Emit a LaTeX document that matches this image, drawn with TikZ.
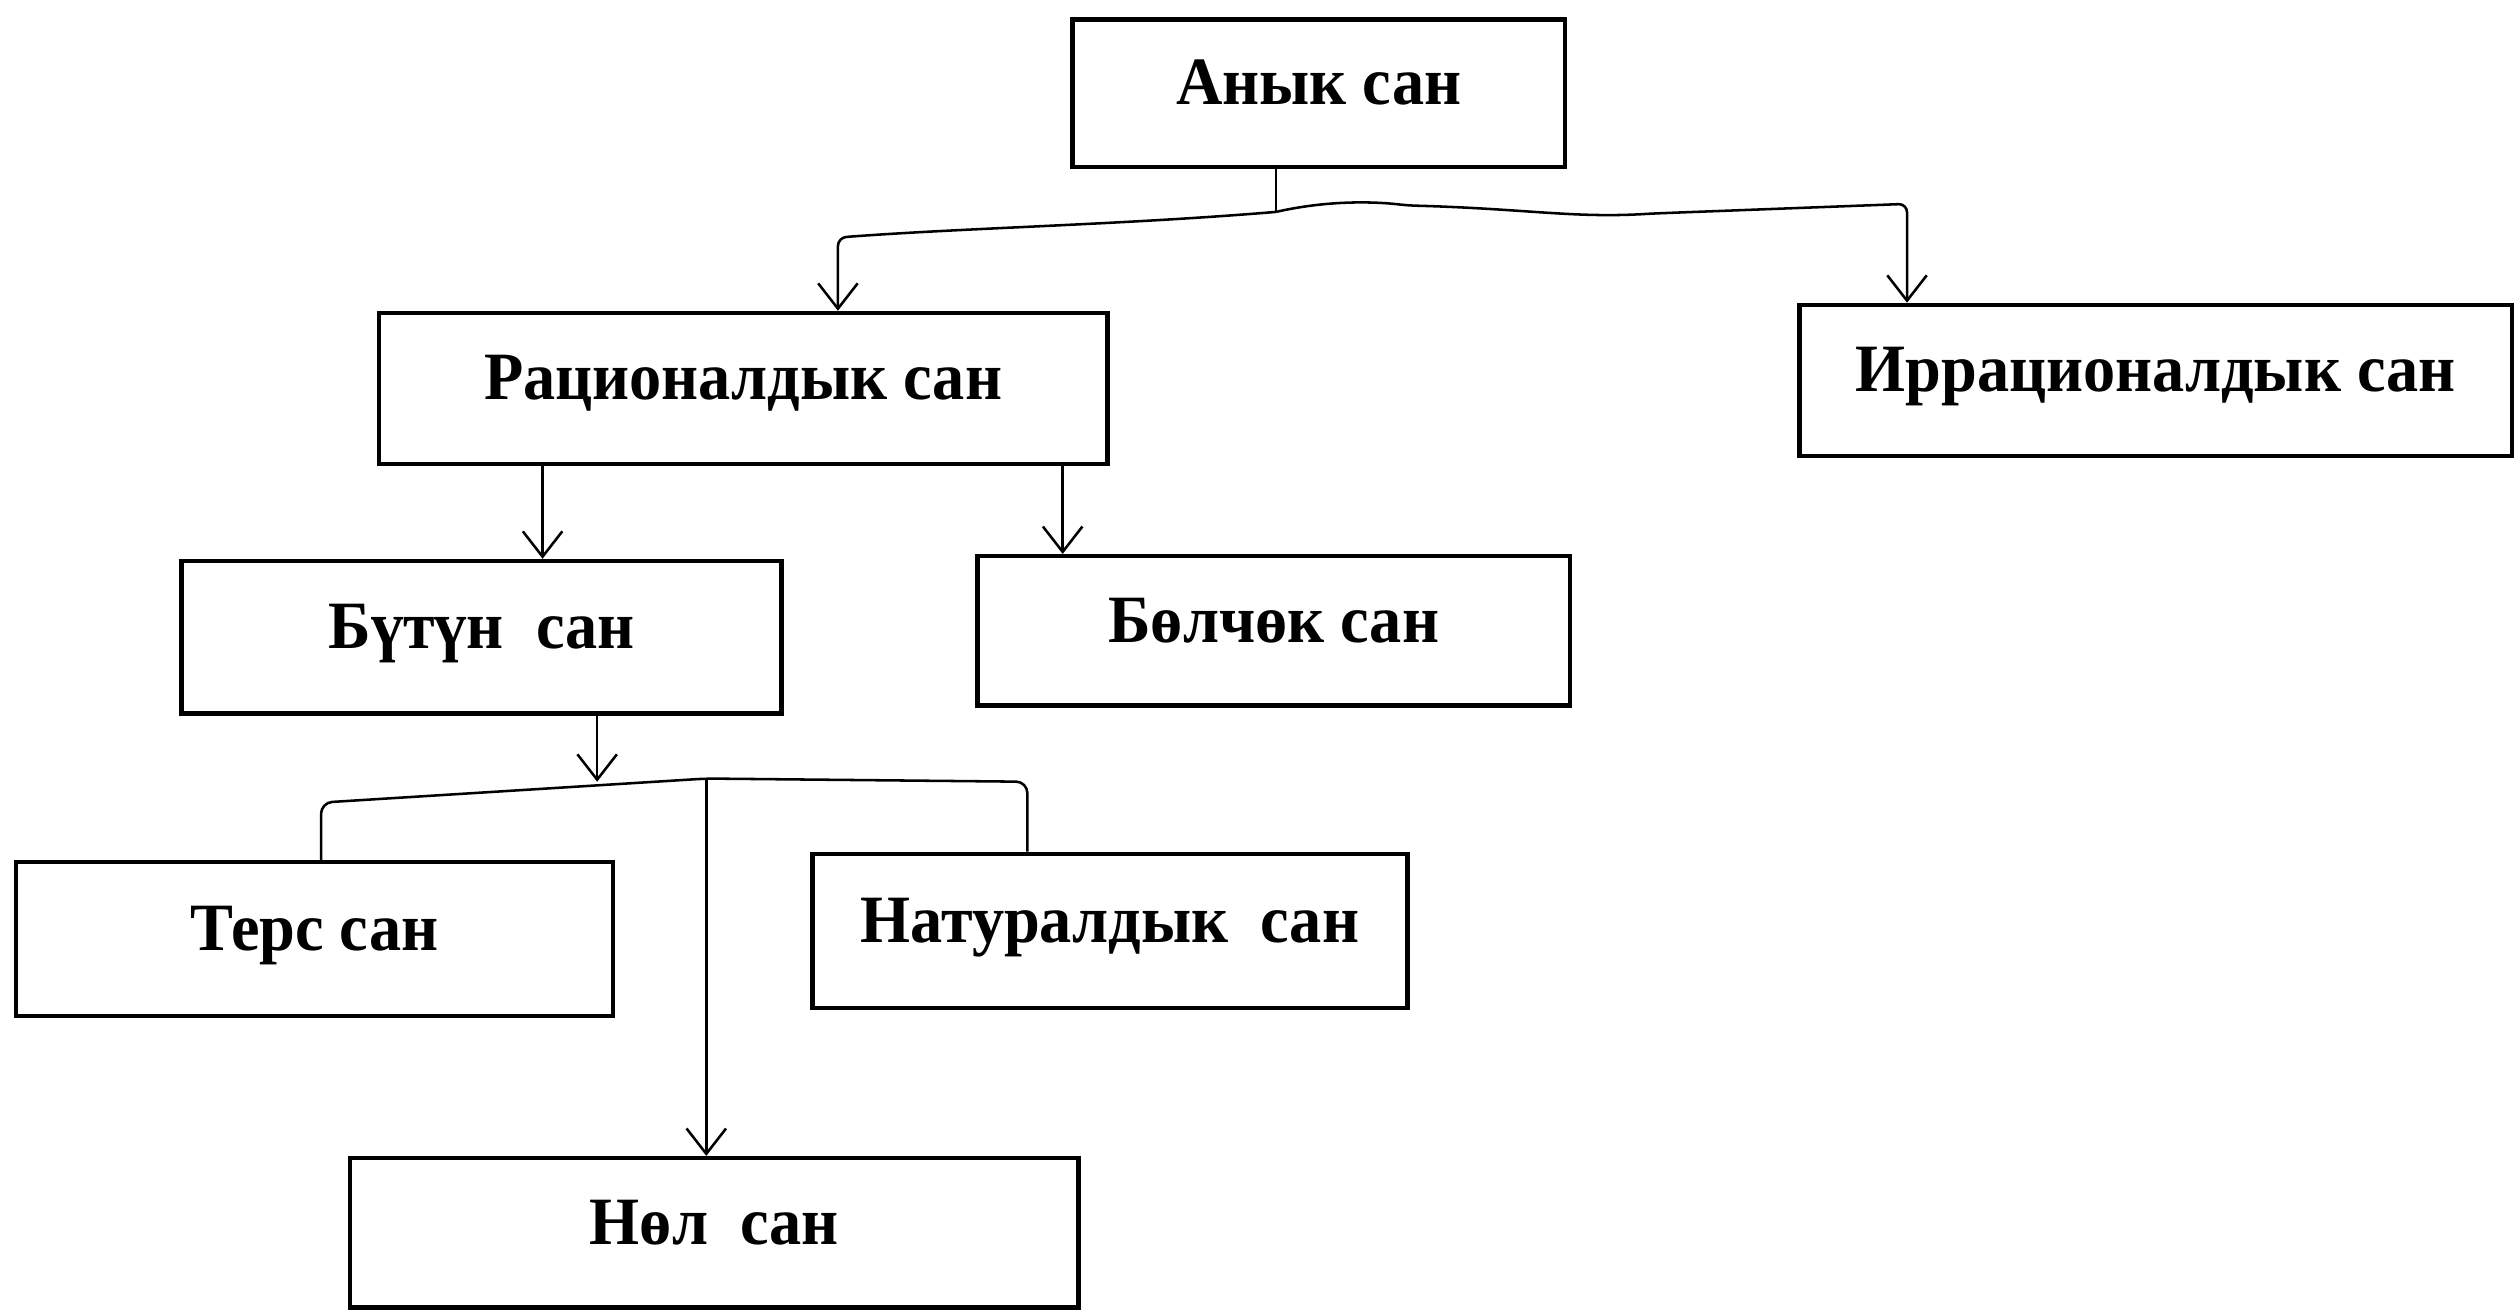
\documentclass[tikz,border=0pt]{standalone}
\usepackage{fontspec}
\setmainfont{Liberation Serif}[FakeStretch=0.95]
\usetikzlibrary{calc}
\usetikzlibrary{arrows.meta}

\tikzset{
  numbox/.style={draw,line width=1.6pt,inner sep=0pt,
                 text height=0.58cm,text depth=0.3cm,
                 font=\fontsize{24}{28}\selectfont\bfseries},
  link/.style={line width=0.9pt},
  linkarrow/.style={link,arrows={-Straight Barb[length=9pt,width=14pt]}}
}

\begin{document}
\begin{tikzpicture}[x=0.02cm,y=-0.02cm]

  %% page frame
  \useasboundingbox (0,0) rectangle (1568,817);

  %% the boxes
  \node[numbox,minimum width=6.14cm,minimum height=1.84cm] (anyk)   at (821.5,58)  {Анык сан};
  \node[numbox,minimum width=9.08cm,minimum height=1.88cm] (rats)   at (463,242)   {Рационалдык сан};
  \node[numbox,minimum width=8.88cm,minimum height=1.88cm] (irr)    at (1343,237)  {Иррационалдык сан};
  \node[numbox,minimum width=7.48cm,minimum height=1.90cm] (butun)  at (300,397)   {Бүтүн\ \ сан};
  \node[numbox,minimum width=7.38cm,minimum height=1.86cm] (bolchok) at (793.5,393) {Бөлчөк сан};
  \node[numbox,minimum width=7.44cm,minimum height=1.92cm] (ters)   at (196,585)   {Терс сан};
  \node[numbox,minimum width=7.42cm,minimum height=1.92cm] (natural) at (691.5,580) {Натуралдык\ \ сан};
  \node[numbox,minimum width=9.08cm,minimum height=1.86cm] (nol)    at (445,768)   {Нөл\ \ сан};

  %% joints of the branches
  \coordinate (aJ) at (795,132);
  \coordinate (aL) at (522,148);
  \coordinate (aR) at (1188,127);
  \coordinate (rB) at (338,0);
  \coordinate (rF) at (662,0);
  \coordinate (bJ) at (372,487);
  \coordinate (bL) at (200,500);
  \coordinate (bN) at (440,485);
  \coordinate (bR) at (640,487);

  %% first level
  \draw[link] (aJ |- anyk.south) -- (aJ);
  \draw[linkarrow,rounded corners=3pt] (aJ) .. controls (700,140) and (600,142) .. (aL) -- (aL |- rats.north);
  \draw[linkarrow,rounded corners=3pt] (aJ) .. controls (830,124) and (860,126) .. (877,128)
        .. controls (950,130) and (980,136) .. (1030,133) -- (aR) -- (aR |- irr.north);

  %% second level
  \draw[linkarrow] (rB |- rats.south) -- (rB |- butun.north);
  \draw[linkarrow] (rF |- rats.south) -- (rF |- bolchok.north);

  %% third level
  \draw[linkarrow] (bJ |- butun.south) -- (bJ);
  \draw[link,rounded corners=4pt] (bL |- ters.north) -- (bL) -- (bN) -- (bR) -- (bR |- natural.north);
  \draw[linkarrow] (bN) -- (bN |- nol.north);

\end{tikzpicture}
\end{document}
